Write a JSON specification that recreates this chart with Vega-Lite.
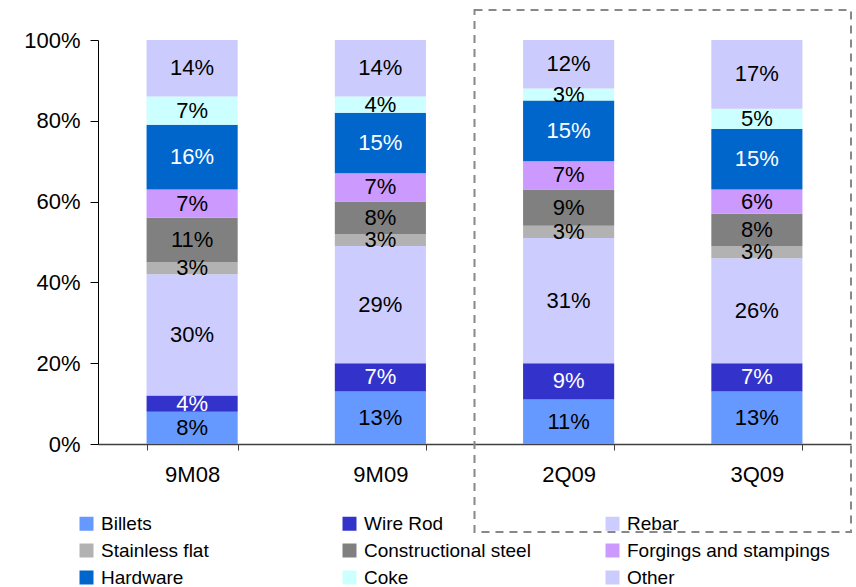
{
  "$schema": "https://vega.github.io/schema/vega-lite/v6.json",
  "width": 753,
  "height": 404,
  "autosize": {"type": "none"},
  "padding": {"left": 98, "top": 40, "right": 5, "bottom": 143},
  "background": "white",
  "config": {"font": "Liberation Sans", "view": {"stroke": null}},
  "layer": [
    {
      "data": {"values": [
        {"period": "9M08", "series": "Billets", "value": 8},
        {"period": "9M08", "series": "Wire Rod", "value": 4},
        {"period": "9M08", "series": "Rebar", "value": 30},
        {"period": "9M08", "series": "Stainless flat", "value": 3},
        {"period": "9M08", "series": "Constructional steel", "value": 11},
        {"period": "9M08", "series": "Forgings and stampings", "value": 7},
        {"period": "9M08", "series": "Hardware", "value": 16},
        {"period": "9M08", "series": "Coke", "value": 7},
        {"period": "9M08", "series": "Other", "value": 14},
        {"period": "9M09", "series": "Billets", "value": 13},
        {"period": "9M09", "series": "Wire Rod", "value": 7},
        {"period": "9M09", "series": "Rebar", "value": 29},
        {"period": "9M09", "series": "Stainless flat", "value": 3},
        {"period": "9M09", "series": "Constructional steel", "value": 8},
        {"period": "9M09", "series": "Forgings and stampings", "value": 7},
        {"period": "9M09", "series": "Hardware", "value": 15},
        {"period": "9M09", "series": "Coke", "value": 4},
        {"period": "9M09", "series": "Other", "value": 14},
        {"period": "2Q09", "series": "Billets", "value": 11},
        {"period": "2Q09", "series": "Wire Rod", "value": 9},
        {"period": "2Q09", "series": "Rebar", "value": 31},
        {"period": "2Q09", "series": "Stainless flat", "value": 3},
        {"period": "2Q09", "series": "Constructional steel", "value": 9},
        {"period": "2Q09", "series": "Forgings and stampings", "value": 7},
        {"period": "2Q09", "series": "Hardware", "value": 15},
        {"period": "2Q09", "series": "Coke", "value": 3},
        {"period": "2Q09", "series": "Other", "value": 12},
        {"period": "3Q09", "series": "Billets", "value": 13},
        {"period": "3Q09", "series": "Wire Rod", "value": 7},
        {"period": "3Q09", "series": "Rebar", "value": 26},
        {"period": "3Q09", "series": "Stainless flat", "value": 3},
        {"period": "3Q09", "series": "Constructional steel", "value": 8},
        {"period": "3Q09", "series": "Forgings and stampings", "value": 6},
        {"period": "3Q09", "series": "Hardware", "value": 15},
        {"period": "3Q09", "series": "Coke", "value": 5},
        {"period": "3Q09", "series": "Other", "value": 17}
      ]},
      "transform": [
        {"calculate": "indexof(['Billets','Wire Rod','Rebar','Stainless flat','Constructional steel','Forgings and stampings','Hardware','Coke','Other'], datum.series)", "as": "k"},
        {"stack": "value", "groupby": ["period"], "sort": [{"field": "k", "order": "ascending"}], "as": ["y0", "y1"]},
        {"calculate": "(datum.y0 + datum.y1) / 2", "as": "ymid"},
        {"calculate": "datum.value + '%'", "as": "label"}
      ],
      "encoding": {
        "x": {
          "field": "period", "type": "nominal",
          "sort": ["9M08", "9M09", "2Q09", "3Q09"],
          "scale": {"paddingInner": 0.516, "paddingOuter": 0.258},
          "axis": {
            "title": null, "labelAngle": 0, "labelFontSize": 22, "labelColor": "black",
            "domainColor": "#404040", "tickColor": "#404040", "tickBand": "extent",
            "tickSize": 6, "labelPadding": 14, "domainWidth": 1.5
          }
        }
      },
      "layer": [
        {
          "mark": {"type": "bar"},
          "encoding": {
            "y": {
              "field": "y0", "type": "quantitative",
              "scale": {"domain": [0, 100], "nice": false},
              "axis": {
                "title": null, "values": [0, 20, 40, 60, 80, 100],
                "labelExpr": "datum.value + '%'", "labelFontSize": 22, "labelColor": "black",
                "domainColor": "black", "tickColor": "black", "tickSize": 8,
                "labelPadding": 10, "grid": false
              }
            },
            "y2": {"field": "y1"},
            "color": {
              "field": "series", "type": "nominal",
              "scale": {
                "domain": ["Billets", "Wire Rod", "Rebar", "Stainless flat", "Constructional steel", "Forgings and stampings", "Hardware", "Coke", "Other"],
                "range": ["#6699FF", "#3333CC", "#CCCCFF", "#B2B2B2", "#808080", "#CC99FF", "#0066CC", "#CCFFFF", "#CBCBFD"]
              },
              "legend": {
                "title": null, "orient": "none", "legendX": -21, "legendY": 474,
                "direction": "horizontal", "columns": 3, "gridAlign": "all",
                "columnPadding": 36, "rowPadding": 7,
                "symbolType": "square", "symbolSize": 196, "symbolStrokeWidth": 0,
                "symbolOpacity": 1, "labelFontSize": 19, "labelColor": "black",
                "labelOffset": 5, "labelLimit": 300
              }
            }
          }
        },
        {
          "mark": {"type": "text", "fontSize": 22, "baseline": "middle", "align": "center"},
          "encoding": {
            "y": {"field": "ymid", "type": "quantitative"},
            "text": {"field": "label"},
            "color": {
              "condition": {"test": "datum.series === 'Wire Rod' || datum.series === 'Hardware'", "value": "white"},
              "value": "black"
            }
          }
        }
      ]
    },
    {
      "data": {"values": [{"x0": 2, "x1": 4, "y0": -21.8, "y1": 107.4}]},
      "mark": {"type": "rect", "filled": false, "stroke": "#888888", "strokeWidth": 2, "strokeDash": [8, 6]},
      "encoding": {
        "x": {"field": "x0", "type": "quantitative", "scale": {"domain": [0, 4], "nice": false, "zero": false}, "axis": null},
        "x2": {"field": "x1"},
        "y": {"field": "y0", "type": "quantitative", "scale": {"domain": [0, 100], "nice": false, "zero": false}, "axis": null},
        "y2": {"field": "y1"}
      }
    }
  ],
  "resolve": {"scale": {"x": "independent", "y": "independent"}}
}
